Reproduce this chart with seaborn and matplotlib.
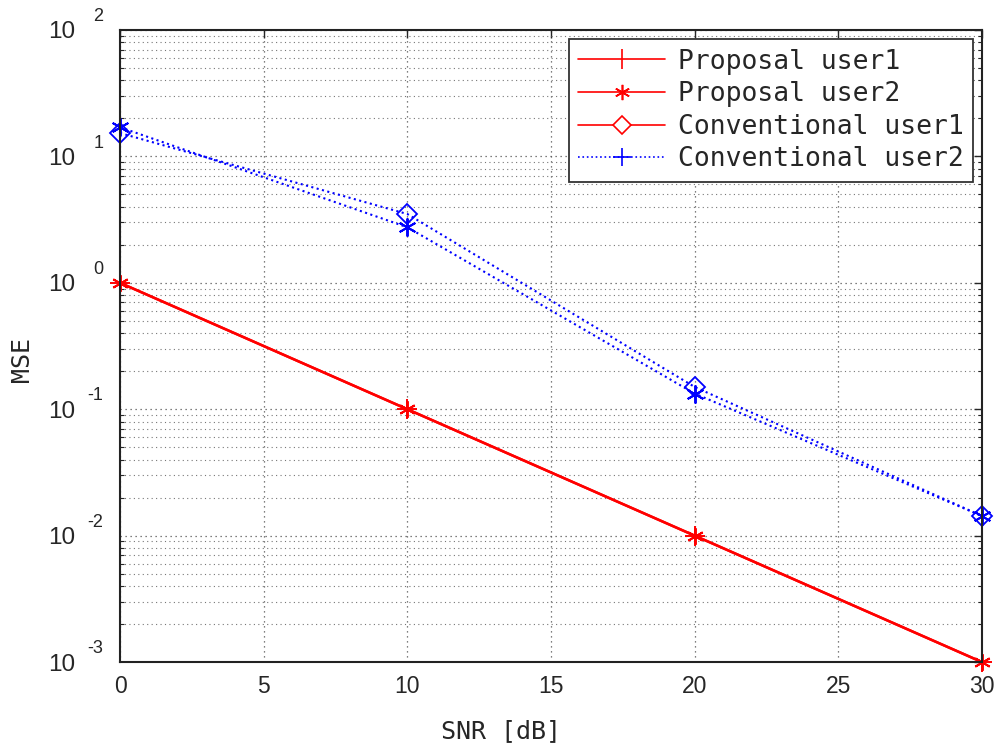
import numpy as np
import pandas as pd
import seaborn as sns
import matplotlib
matplotlib.use("Agg")
import matplotlib.pyplot as plt
from matplotlib.lines import Line2D

snr = [0, 10, 20, 30]
prop_user1 = [1.0, 0.1, 0.01, 0.001]
prop_user2 = [1.0, 0.1, 0.01, 0.001]
conv_user1 = [15.3, 3.5, 0.15, 0.0143]
conv_user2 = [17.0, 2.75, 0.133, 0.0143]
labels = ["Proposal user1", "Proposal user2", "Conventional user1", "Conventional user2"]
ytick_values = [1e-3, 1e-2, 1e-1, 1e0, 1e1, 1e2]
ytick_exponents = ["-3", "-2", "-1", "0", "1", "2"]

sns.set_style("white")
plt.rcParams['font.family'] = ['Liberation Sans', 'DejaVu Sans']

fig = plt.figure(figsize=(9.96, 7.49), dpi=100)
ax = fig.add_axes([0.1205, 0.116, 0.8655, 0.844])

df = pd.DataFrame({"snr": snr * 4,
                   "mse": prop_user1 + prop_user2 + conv_user1 + conv_user2,
                   "series": sum([[l] * 4 for l in labels], [])})

AST = (6, 2, 0)
styles = {
    labels[0]: dict(color="#ff0000", ls="-", marker="+", ms=14, mew=1.4, mfc="none", lw=1.8),
    labels[1]: dict(color="#ff0000", ls="-", marker=AST, ms=12, mew=1.4, mfc="#ff0000", lw=1.8),
    labels[2]: dict(color="#0000ff", ls=":", marker="D", ms=10, mew=1.3, mfc="none", lw=1.5),
    labels[3]: dict(color="#0000ff", ls=":", marker=AST, ms=13, mew=1.4, mfc="#0000ff", lw=1.5),
}
for lab in labels:
    s = styles[lab]
    sub = df[df.series == lab]
    sns.lineplot(data=sub, x="snr", y="mse", ax=ax, color=s["color"], linestyle=s["ls"],
                 marker=s["marker"], markersize=s["ms"], markeredgewidth=s["mew"],
                 markerfacecolor=s["mfc"], markeredgecolor=s["color"],
                 linewidth=s["lw"], legend=False, clip_on=False)

ax.set_yscale("log")
ax.set_xlim(0, 30)
ax.set_ylim(1e-3, 1e2)
ax.set_xticks([0, 5, 10, 15, 20, 25, 30])
ax.set_yticks(ytick_values)
ax.set_yticklabels(["10"] * len(ytick_values))
ax.yaxis.set_minor_locator(matplotlib.ticker.LogLocator(base=10, subs=np.arange(2, 10), numticks=20))
ax.yaxis.set_minor_formatter(matplotlib.ticker.NullFormatter())
ax.tick_params(axis="x", which="major", direction="in", length=6, width=1, labelsize=16.5,
               top=True, pad=9)
ax.tick_params(axis="y", which="major", direction="in", length=6, width=1, labelsize=17.5,
               right=True, pad=32)
ax.tick_params(axis="y", which="minor", direction="in", length=3, width=0.8, left=True, right=True)
for v, e in zip(ytick_values, ytick_exponents):
    ax.annotate(e, xy=(0, v), xycoords=ax.get_yaxis_transform(), xytext=(-12, 3.5),
                textcoords="offset points", ha="right", va="bottom", fontsize=13,
                color="#262626", annotation_clip=False)
ax.grid(True, which="major", color="#555555", linestyle=(0, (1, 3)), linewidth=0.9)
ax.grid(True, which="minor", axis="y", color="#777777", linestyle=(0, (1, 3)), linewidth=0.8)
for sp in ax.spines.values():
    sp.set_color("#222222")
    sp.set_linewidth(1.5)

ax.set_xlabel("SNR [dB]", fontsize=18, family=["DejaVu Sans Mono"])
ax.set_ylabel("MSE", fontsize=18, family=["DejaVu Sans Mono"])
ax.xaxis.set_label_coords(0.442, -0.09)
ax.yaxis.set_label_coords(-0.1, 0.478)

handles = [
    Line2D([], [], color="#ff0000", ls="-", marker="|", ms=14, mew=1.2, lw=1.2),
    Line2D([], [], color="#ff0000", ls="-", marker=AST, ms=11, mew=1.2, lw=1.2),
    Line2D([], [], color="#ff0000", ls="-", marker="D", ms=9, mfc="white", mew=1.2, lw=1.2),
    Line2D([], [], color="#0000ff", ls=":", marker="+", ms=13, mew=1.2, lw=1.2),
]
leg = ax.legend(handles, labels, loc="upper right", bbox_to_anchor=(0.99, 0.985),
                prop={"family": "DejaVu Sans Mono", "size": 19}, frameon=True, fancybox=False,
                edgecolor="#333333", framealpha=1, handlelength=3.3, borderpad=0.35,
                labelspacing=0.25, handletextpad=0.5, borderaxespad=0)
leg.get_frame().set_linewidth(1.3)

fig.savefig("out.png", dpi=100)
